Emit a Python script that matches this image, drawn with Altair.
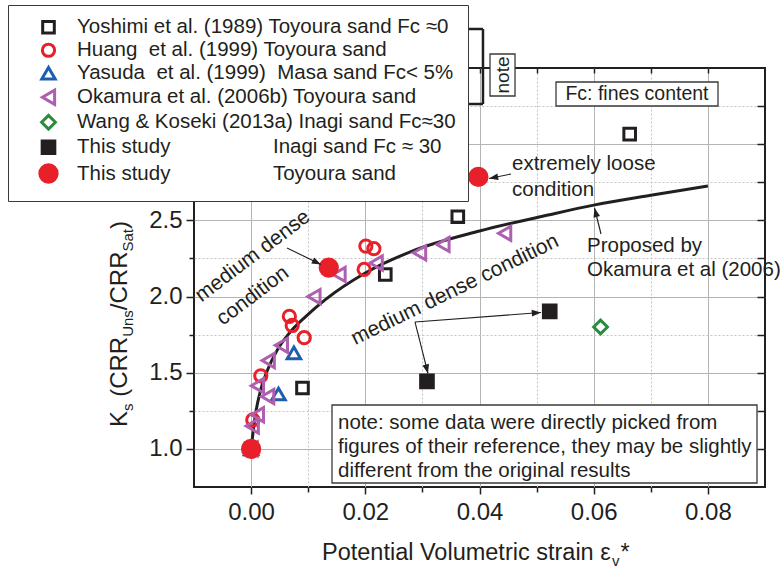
import math
import altair as alt
import pandas as pd

FONT = "Liberation Sans"
INK = "#231f20"
NB = "\u00a0"

# ---------------- series ----------------
labels = [
    "Yoshimi et al. (1989) Toyoura sand Fc ≈0",
    "Huang" + NB * 2 + "et al. (1999) Toyoura sand",
    "Yasuda" + NB * 2 + "et al. (1999)" + NB * 2 + "Masa sand Fc< 5%",
    "Okamura et al. (2006b) Toyoura sand",
    "Wang & Koseki (2013a) Inagi sand Fc≈30",
    "This study" + NB * 18 + "Inagi sand Fc ≈ 30",
    "This study" + NB * 18 + "Toyoura sand",
]
shapes = ["square", "circle", "triangle-up", "triangle-left", "diamond", "square", "circle"]
strokes = ["#231f20", "#e8202a", "#1d5fae", "#ad5fb0", "#2b8a3e", "#231f20", "#e8202a"]
fills = ["transparent"] * 5 + ["#231f20", "#e8202a"]
sizes = [135, 150, 180, 200, 190, 160, 300]

yoshimi_x = [0.0, 0.0090, 0.0235, 0.0362, 0.0663]
yoshimi_y = [1.00, 1.40, 2.145, 2.524, 3.066]
huang_x = [0.0, 0.0003, 0.0017, 0.0067, 0.0072, 0.0093, 0.0198, 0.0201, 0.0215]
huang_y = [1.00, 1.19, 1.48, 1.87, 1.81, 1.73, 2.178, 2.331, 2.314]
yasuda_x = [0.0, 0.0048, 0.0075]
yasuda_y = [1.00, 1.36, 1.63]
okamura_x = [0.0, 0.0002, 0.0011, 0.0011, 0.0029, 0.0030, 0.0053, 0.0110, 0.0154, 0.0219, 0.0295, 0.0336, 0.0444]
okamura_y = [1.00, 1.15, 1.224, 1.415, 1.344, 1.58, 1.68, 2.00, 2.145, 2.22, 2.287, 2.342, 2.415]
wang_x = [0.0, 0.0612]
wang_y = [1.00, 1.80]
inagi_x = [0.0308, 0.0523]
inagi_y = [1.443, 1.903]
toyoura_x = [0.0, 0.0136, 0.0398]
toyoura_y = [1.00, 2.19, 2.785]

# Okamura et al. (2006) proposed relation
curve_x = [0.0, 0.0008, 0.0017, 0.0029, 0.0046, 0.0067, 0.0096, 0.0130, 0.0200,
           0.0280, 0.0400, 0.0520, 0.0600, 0.0700, 0.0800]
curve_y = [1.0, 1.235, 1.39, 1.52, 1.65, 1.76, 1.87, 1.98, 2.155,
           2.295, 2.43, 2.535, 2.60, 2.665, 2.726]

# ---------------- layout ----------------
LEFT, TOP, W, H = 194, 68, 571, 419
X_DOM = [-0.01, 0.09]
Y_DOM = [0.75, 3.5]
KX = W / (X_DOM[1] - X_DOM[0])
KY = H / (Y_DOM[1] - Y_DOM[0])

xs = alt.Scale(domain=X_DOM, nice=False, zero=False)
ys = alt.Scale(domain=Y_DOM, nice=False, zero=False)

rows = []
for lab, xv, yv in zip(labels,
                       [yoshimi_x, huang_x, yasuda_x, okamura_x, wang_x, inagi_x, toyoura_x],
                       [yoshimi_y, huang_y, yasuda_y, okamura_y, wang_y, inagi_y, toyoura_y]):
    for a, b in zip(xv, yv):
        rows.append({"x": a, "y": b, "series": lab})
points = pd.DataFrame(rows)
curve = pd.DataFrame({"x": curve_x, "y": curve_y})
one = pd.DataFrame({"k": [0]})


def X(field="x", **kw):
    return alt.X(f"{field}:Q", scale=xs, axis=None, **kw)


def Y(field="y", **kw):
    return alt.Y(f"{field}:Q", scale=ys, axis=None, **kw)


# ---------------- axes (one carrier layer per axis) ----------------
def carrier(**enc):
    return alt.Chart(curve).mark_point(opacity=0, size=1).encode(**enc)


ax_x_major = carrier(x=alt.X("x:Q", scale=xs, axis=alt.Axis(
    orient="bottom", values=[0.0, 0.02, 0.04, 0.06, 0.08], format=".2f", title=None,
    tickSize=7, labelFontSize=24, labelPadding=6, grid=True, gridColor="#b4b4b4", gridWidth=1)))
ax_x_minor = carrier(x=alt.X("x:Q", scale=xs, axis=alt.Axis(
    orient="bottom", values=[0.01, 0.03, 0.05, 0.07], labels=False, title=None,
    tickSize=5, grid=True, gridColor="#c4c4c4", gridDash=[2, 2], gridWidth=1)))
ax_x_top = carrier(x=alt.X("x:Q", scale=xs, axis=alt.Axis(
    orient="top", values=[0.0, 0.01, 0.02, 0.03, 0.04, 0.05, 0.06, 0.07, 0.08],
    labels=False, title=None, tickSize=5, offset=-5, grid=False)))
ax_y_major = carrier(y=alt.Y("y:Q", scale=ys, axis=alt.Axis(
    orient="left", values=[1.0, 1.5, 2.0, 2.5, 3.0], format=".1f", title=None,
    tickSize=8, labelFontSize=24, labelPadding=4, grid=True, gridColor="#b4b4b4", gridWidth=1)))
ax_y_minor = carrier(y=alt.Y("y:Q", scale=ys, axis=alt.Axis(
    orient="left", values=[1.25, 1.75, 2.25, 2.75, 3.25], labels=False, title=None,
    tickSize=5, grid=True, gridColor="#c4c4c4", gridDash=[2, 2], gridWidth=1)))
ax_y_right = carrier(y=alt.Y("y:Q", scale=ys, axis=alt.Axis(
    orient="right", values=[1.0, 1.25, 1.5, 1.75, 2.0, 2.25, 2.5, 2.75, 3.0, 3.25],
    labels=False, title=None, tickSize=8, offset=-8, grid=False)))

# ---------------- boxes ----------------
boxes = pd.DataFrame({
    "x": [0.01417, 0.0534, 0.04184],
    "x2": [0.0886, 0.08177, 0.04622],
    "y": [1.2882, 3.4081, 3.5919],
    "y2": [0.7763, 3.2506, 3.3162],
})
box_layer = alt.Chart(boxes).mark_rect(fill="white", stroke="#3a3a3a", strokeWidth=1.3).encode(
    x=X("x"), x2="x2", y=Y("y"), y2="y2")

# bracket joining the first four references to the "note" tag
bracket = pd.DataFrame({
    "x": [0.03623, 0.04061, 0.03623],
    "x2": [0.04061, 0.04061, 0.04061],
    "y": [3.756, 3.756, 3.2637],
    "y2": [3.756, 3.2637, 3.2637],
})
bracket_layer = alt.Chart(bracket).mark_rule(color=INK, strokeWidth=2.5).encode(
    x=X("x"), x2="x2", y=Y("y"), y2="y2")

# ---------------- curve and points ----------------
line_layer = alt.Chart(curve).mark_line(color=INK, strokeWidth=3, interpolate="monotone").encode(
    x=X(), y=Y())

pts_layer = alt.Chart(points).mark_point(filled=True, strokeWidth=3, opacity=1).encode(
    x=X(), y=Y(),
    shape=alt.Shape("series:N", scale=alt.Scale(domain=labels, range=shapes), legend=alt.Legend(title=None)),
    stroke=alt.Stroke("series:N", scale=alt.Scale(domain=labels, range=strokes), legend=alt.Legend(title=None)),
    fill=alt.Fill("series:N", scale=alt.Scale(domain=labels, range=fills), legend=alt.Legend(title=None)),
    size=alt.Size("series:N", scale=alt.Scale(type="ordinal", domain=labels, range=sizes),
                  legend=alt.Legend(title=None)),
)

# ---------------- arrows ----------------
arrows = pd.DataFrame({
    "x": [0.04552, 0.06128, 0.00629, 0.0287, 0.0287],
    "y": [2.8043, 2.4105, 2.3186, 1.8330, 1.8330],
    "x2": [0.04166, 0.06014, 0.01224, 0.05077, 0.03098],
    "y2": [2.7748, 2.5811, 2.2103, 1.8953, 1.4949],
})
arrows["ang"] = [
    math.degrees(math.atan2(-(r.y2 - r.y) * KY, (r.x2 - r.x) * KX)) % 360
    for r in arrows.itertuples()
]
shaft_layer = alt.Chart(arrows).mark_rule(color=INK, strokeWidth=1.1).encode(
    x=X("x"), y=Y("y"), x2="x2", y2="y2")
head_layer = alt.Chart(arrows).mark_point(
    shape="M0,0 L-2.2,-0.8 L-2.2,0.8 Z", size=70, filled=True, color=INK, opacity=1,
    strokeWidth=0).encode(x=X("x2"), y=Y("y2"), angle=alt.Angle("ang:Q", scale=None))


# ---------------- annotation text ----------------
def note_text(df, **mk):
    base = dict(font=FONT, color=INK, fontSize=20.5, align="left", baseline="alphabetic")
    base.update(mk)
    return alt.Chart(df).mark_text(**base).encode(x=X("x"), y=Y("y"), text="t:N")


t_left = pd.DataFrame({
    "x": [0.01522, 0.01522, 0.01522, 0.04569, 0.04569, 0.05883, 0.05883],
    "y": [1.1307, 0.9732, 0.8156, 2.8305, 2.6599, 2.2924, 2.1348],
    "t": ["note: some data were directly picked from",
          "figures of their reference, they may be slightly",
          "different from the original results",
          "extremely loose", "condition",
          "Proposed by", "Okamura et al (2006)"],
})
t_fc = pd.DataFrame({"x": [0.06758], "y": [3.3294], "t": ["Fc: fines content"]})
t_note = pd.DataFrame({"x": [0.04403], "y": [3.4541], "t": ["note"]})
t_md1 = pd.DataFrame({"x": [0.0003, 0.0003], "y": [2.2650, 2.0036], "t": ["medium dense", "condition"]})
t_md2 = pd.DataFrame({"x": [0.03571], "y": [2.043], "t": ["medium dense condition"]})

text_layers = [
    note_text(t_left),
    note_text(t_fc, align="center", baseline="middle", fontSize=19.5),
    note_text(t_note, align="center", baseline="middle", fontSize=19, angle=270),
    note_text(t_md1, align="center", baseline="middle", fontSize=21, angle=323),
    note_text(t_md2, align="center", baseline="middle", fontSize=21, angle=334),
]

# ---------------- axis titles with subscripts ----------------
EM = {"K": .667, "s": .5, "(": .333, ")": .333, "C": .722, "R": .722, "U": .722, "n": .556,
      "/": .278, "S": .667, "a": .556, "t": .278, " ": .278, "P": .667, "o": .556,
      "e": .556, "i": .222, "l": .222, "V": .667, "u": .556, "m": .833, "c": .5, "r": .333,
      "ε": .45, "v": .5, "*": .389}


def width(s, size):
    return sum(EM.get(c, .556) for c in s) * size


def piece(txt, px, py, size, angle=0):
    mk = dict(text=txt, font=FONT, fontSize=size, color=INK, align="left", baseline="alphabetic")
    if angle:
        mk["angle"] = angle
    return alt.Chart(one).mark_text(**mk).encode(x=alt.value(px - LEFT), y=alt.value(py - TOP))


title_layers = []
# y title: K_s (CRR_Uns/CRR_Sat), written bottom to top; gap = word space before "("
ypos = 427
for txt, big, gap in [("K", True, 0), ("s", False, 0), ("(CRR", True, 6.7), ("Uns", False, 0),
                      ("/CRR", True, 0), ("Sat", False, 0), (")", True, 0)]:
    size = 24 if big else 15
    ypos -= gap
    title_layers.append(piece(txt, 127 if big else 133, ypos, size, angle=270))
    ypos -= width(txt, size)
# x title: Potential Volumetric strain ε_v*
xpos = 322
for txt, big in [("Potential Volumetric strain ε", True), ("v", False), ("*", True)]:
    size = 23.5 if big else 15
    title_layers.append(piece(txt, xpos, 560 if big else 566, size))
    xpos += width(txt, size) + (1 if not big else 0)

chart = alt.layer(
    ax_x_major, ax_x_minor, ax_x_top, ax_y_major, ax_y_minor, ax_y_right,
    bracket_layer, box_layer, line_layer, pts_layer, shaft_layer, head_layer,
    *text_layers, *title_layers,
).resolve_axis(x="independent", y="independent").properties(
    width=W, height=H,
    autosize=alt.AutoSizeParams(type="none"),
    padding={"left": LEFT, "top": TOP, "right": 782 - LEFT - W, "bottom": 572 - TOP - H},
).configure_view(stroke=INK, strokeWidth=2).configure_axis(
    domain=False, tickColor=INK, tickWidth=1.5, labelColor=INK, labelFont=FONT,
).configure_legend(
    orient="none", legendX=8 - LEFT, legendY=5 - TOP, fillColor="white", strokeColor="#3a3a3a",
    padding=12, labelFont=FONT, labelFontSize=20.5, labelColor=INK, labelLimit=0,
    rowPadding=-2, symbolStrokeWidth=3, symbolOffset=18, labelOffset=18,
)

chart.save("out.html", embed_options={"renderer": "svg", "actions": False})
